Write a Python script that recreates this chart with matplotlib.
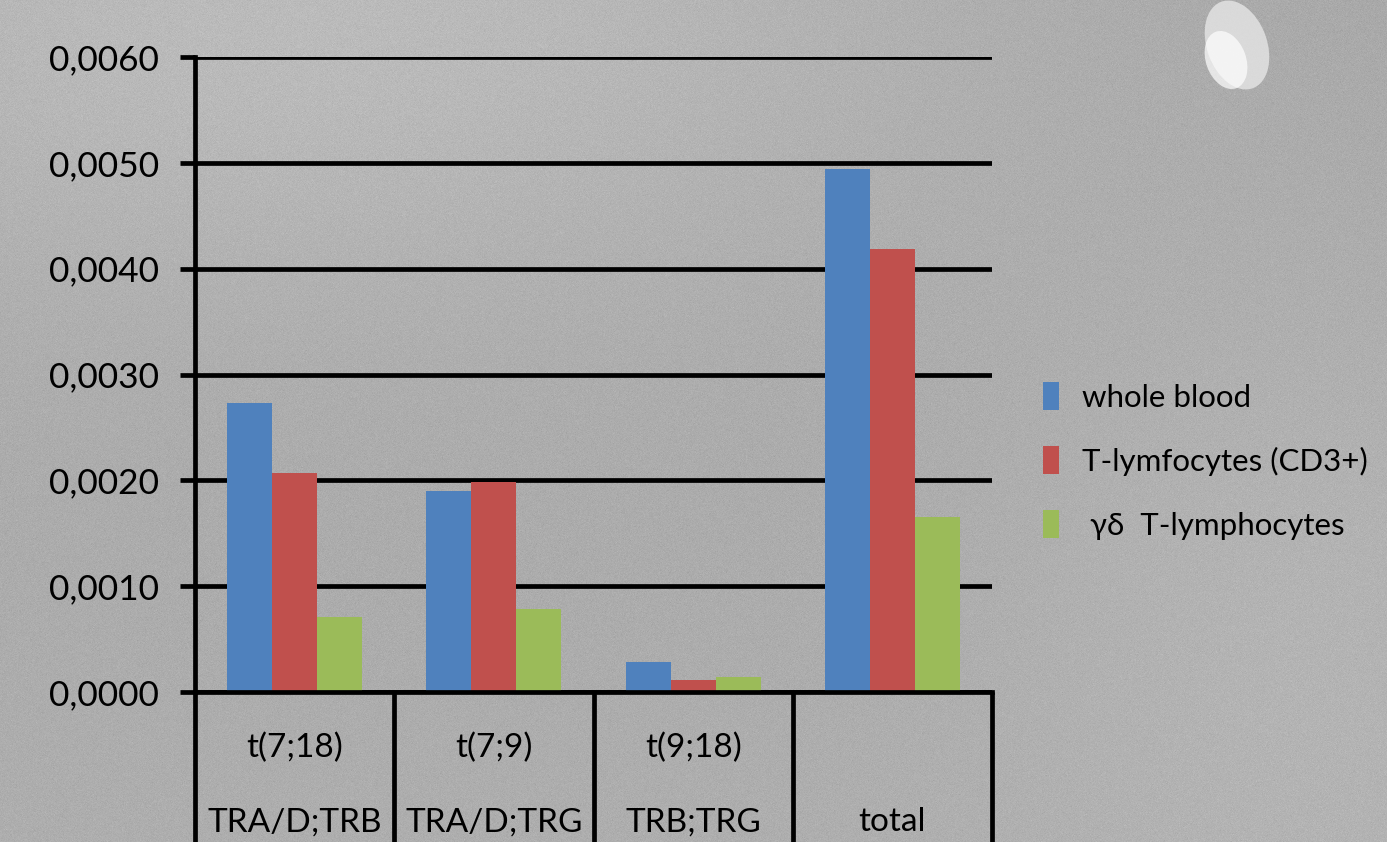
import numpy as np
import matplotlib
matplotlib.use("Agg")
import matplotlib.pyplot as plt
from matplotlib.patches import Ellipse, Patch

plt.rcParams['font.family'] = ['Lato', 'DejaVu Sans']

# Data
categories_top = ["t(7;18)", "t(7;9)", "t(9;18)", ""]
categories_bottom = ["TRA/D;TRB", "TRA/D;TRG", "TRB;TRG", "total"]
series_names = ["whole blood", "T-lymfocytes (CD3+)", " γδ  T-lymphocytes"]
whole_blood = [0.00273, 0.00190, 0.00028, 0.00494]
t_lymfocytes = [0.00207, 0.00198, 0.00011, 0.00419]
gd_lymphocytes = [0.00071, 0.00078, 0.00014, 0.00165]
yticks = [0.0, 0.001, 0.002, 0.003, 0.004, 0.005, 0.006]
ytick_labels = ["0,0000", "0,0010", "0,0020", "0,0030", "0,0040", "0,0050", "0,0060"]

colors = ["#4F81BD", "#C0504D", "#9BBB59"]

W, H = 1387, 842
fig = plt.figure(figsize=(W / 100, H / 100), dpi=100)

# Gray brushed-metal backdrop
bg = fig.add_axes([0, 0, 1, 1], zorder=-10)
yy, xx = np.mgrid[0:H, 0:W]
base = 0.65 + 0.08 * np.exp(-(((xx - 300) / 700.0) ** 2 + ((yy - 0) / 300.0) ** 2))
base += 0.03 * (yy / H)
base += 0.03 * np.exp(-(((xx - 1300) / 300.0) ** 2 + ((yy - 600) / 400.0) ** 2))
rng = np.random.default_rng(7)
grain = rng.normal(0, 0.012, (H, W))
img = np.clip(base + grain, 0, 1)
bg.imshow(img, cmap="gray", vmin=0, vmax=1, aspect="auto", extent=[0, W, H, 0])
bg.add_patch(Ellipse((1237, 45), 60, 92, angle=-20, facecolor="#e6e6e6", alpha=0.8, lw=0))
bg.add_patch(Ellipse((1226, 60), 40, 60, angle=-20, facecolor="white", alpha=0.7, lw=0))
bg.set_xlim(0, W)
bg.set_ylim(H, 0)
bg.axis("off")

ax = fig.add_axes([195 / W, 1 - 692 / H, (992 - 195) / W, (692 - 57) / H])
ax.patch.set_alpha(0)

x = np.arange(len(categories_bottom))
width = 0.226
for i, (vals, c, name) in enumerate(zip([whole_blood, t_lymfocytes, gd_lymphocytes], colors, series_names)):
    ax.bar(x + (i - 1) * width, vals, width, color=c, label=name, zorder=3)

ax.set_xlim(-0.5, len(categories_bottom) - 0.5)
ax.set_ylim(0, 0.006)
ax.set_yticks(yticks)
ax.set_yticklabels(ytick_labels, fontsize=25.5)
ax.set_xticks([])
ax.yaxis.grid(True, color="black", linewidth=3.4, zorder=2)
ax.set_axisbelow(True)
ax.tick_params(axis="y", length=11, width=3.4, color="black", pad=15)

for s in ["top", "right"]:
    ax.spines[s].set_visible(False)
ax.spines["left"].set_linewidth(3.4)
ax.spines["bottom"].set_linewidth(3.4)
ax.spines["left"].set_zorder(4)
ax.spines["bottom"].set_zorder(4)

# Category table below the axis
trans = ax.get_xaxis_transform()
for b in np.arange(-0.5, len(categories_bottom), 1.0):
    ax.plot([b, b], [0, -0.35], color="black", lw=3.4, transform=trans, clip_on=False,
            solid_capstyle="butt", zorder=4)
for xi, t1, t2 in zip(x, categories_top, categories_bottom):
    ax.text(xi, -0.088, t1, transform=trans, ha="center", va="center", fontsize=24)
    ax.text(xi, -0.205, t2, transform=trans, ha="center", va="center", fontsize=24)

handles = [Patch(facecolor=c, edgecolor="none") for c in colors]
fig.legend(handles, series_names, loc="center left", bbox_to_anchor=(1015 / W, 1 - 461 / H),
           frameon=False, fontsize=22.5, handlelength=0.5, handleheight=1.0,
           handletextpad=0.75, labelspacing=1.1)

fig.savefig("out.png", dpi=100)
